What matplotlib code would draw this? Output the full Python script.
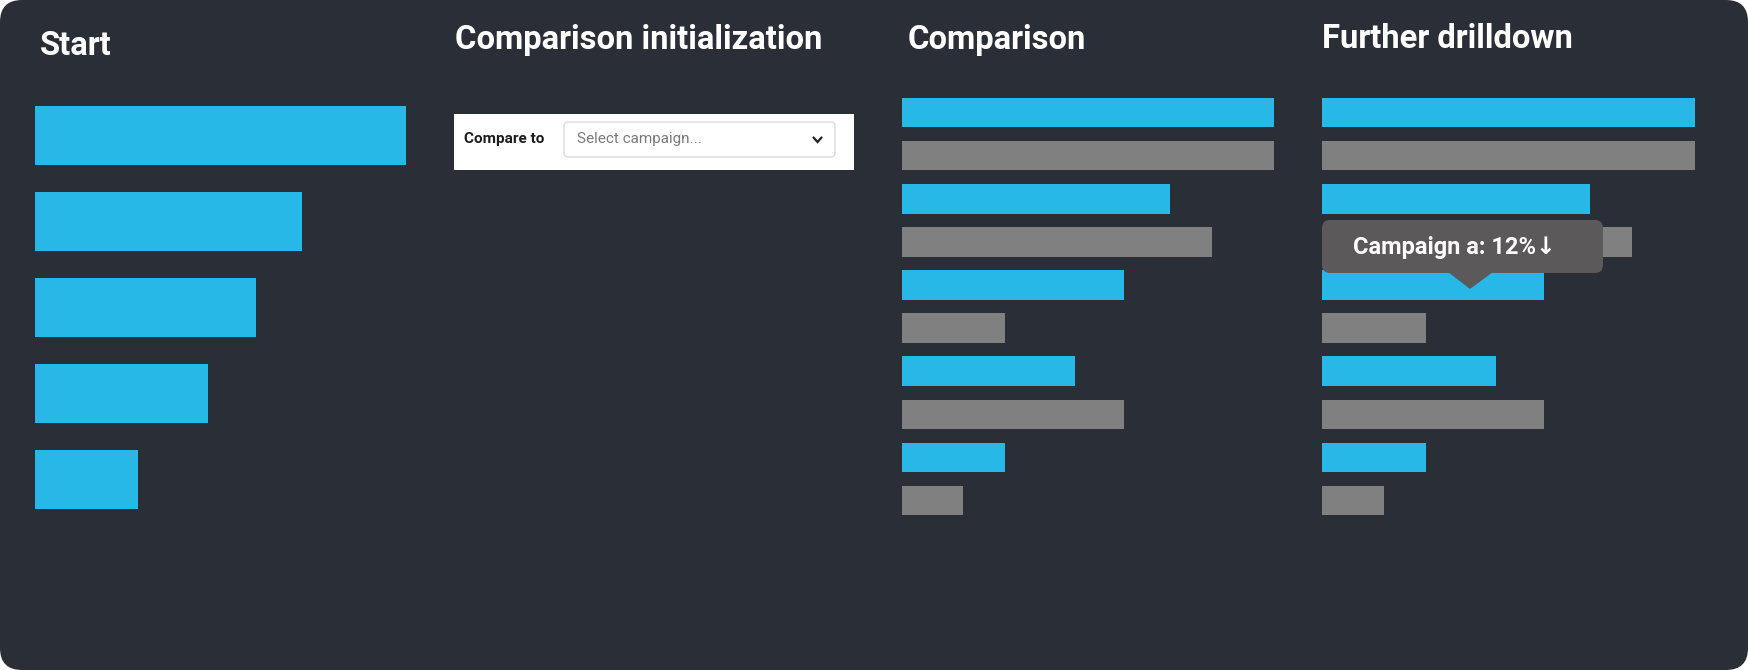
import matplotlib.pyplot as plt
from matplotlib.patches import FancyBboxPatch, Polygon

W, H = 1748, 670

# data (bar lengths in % of the longest bar)
titles = ["Start", "Comparison initialization", "Comparison", "Further drilldown"]
current = [100, 72, 59.6, 46.6, 27.8]
previous = [100, 83.2, 27.8, 59.6, 16.5]
tooltip_text = "Campaign a: 12%\u2193"
compare_label = "Compare to"
select_placeholder = "Select campaign..."

BG = "#2a2e36"
BLUE = "#27b8e7"
GRAY = "#808080"
TIP = "#5b595a"

plt.rcParams['font.family'] = ['Roboto', 'DejaVu Sans']

fig = plt.figure(figsize=(W / 100, H / 100), dpi=100, facecolor="white")


def px_axes(x0, y0, x1, y1):
    # axes placed by pixel box (y measured from the top)
    ax = fig.add_axes([x0 / W, 1 - y1 / H, (x1 - x0) / W, (y1 - y0) / H])
    ax.patch.set_alpha(0)
    return ax


def pixel_space(ax):
    ax.set_xlim(0, W)
    ax.set_ylim(H, 0)
    ax.axis("off")


bg = px_axes(0, 0, W, H)
pixel_space(bg)
bg.add_patch(FancyBboxPatch((0, 0), W, H, boxstyle="round,pad=0,rounding_size=22",
                            fc=BG, ec="none"))

title_x = [40, 455, 908, 1322]
title_y = [55, 48.5, 48.5, 48.5]
for t, x, y in zip(titles, title_x, title_y):
    bg.text(x, y, t, color="white", fontsize=23.6, fontweight="bold", va="baseline")

# "compare to" widget
bg.add_patch(FancyBboxPatch((454, 114), 400, 56, boxstyle="square,pad=0", fc="white", ec="none"))
bg.add_patch(FancyBboxPatch((564, 122), 271, 35, boxstyle="round,pad=0,rounding_size=4",
                            fc="white", ec="#dcdcdc", lw=1))
bg.text(464, 139, compare_label, color="#1c1c1c", fontsize=11, fontweight="bold", va="center")
bg.text(577, 139.5, select_placeholder, color="#7a7a7a", fontsize=11, va="center")
bg.plot([813.5, 817.5, 821.5], [137.5, 142, 137.5], color="#222222", lw=1.6,
        solid_capstyle="round", solid_joinstyle="miter")


def bar_panel(x0, y0, x1, y1, values, colors, h):
    ax = px_axes(x0, y0, x1, y1)
    ax.barh(range(len(values)), values, height=h, color=colors, linewidth=0)
    ax.set_xlim(0, 100)
    ax.set_ylim(len(values) - 0.5, -0.5)
    ax.axis("off")
    return ax


# Start
bar_panel(34.6, 92.4, 406.0, 522.4, current, BLUE, 0.686)

# Comparison / Further drilldown: current and previous interleaved
pairs = []
pair_colors = []
for c, p in zip(current, previous):
    pairs += [c, p]
    pair_colors += [BLUE, GRAY]

bar_panel(901.9, 91.05, 1274.2, 522.05, pairs, pair_colors, 0.685)
bar_panel(1322.2, 91.05, 1694.5, 522.05, pairs, pair_colors, 0.685)

# tooltip on top
ov = px_axes(0, 0, W, H)
pixel_space(ov)
ov.add_patch(FancyBboxPatch((1322, 220), 281, 53, boxstyle="round,pad=0,rounding_size=8",
                            fc=TIP, ec="none"))
ov.add_patch(Polygon([(1448, 272), (1493, 272), (1470, 289)], closed=True, fc=TIP, ec="none"))
ov.text(1353, 254, tooltip_text, color="white", fontsize=17, fontweight="bold", va="baseline")

fig.savefig("out.png", dpi=100, facecolor="white")
